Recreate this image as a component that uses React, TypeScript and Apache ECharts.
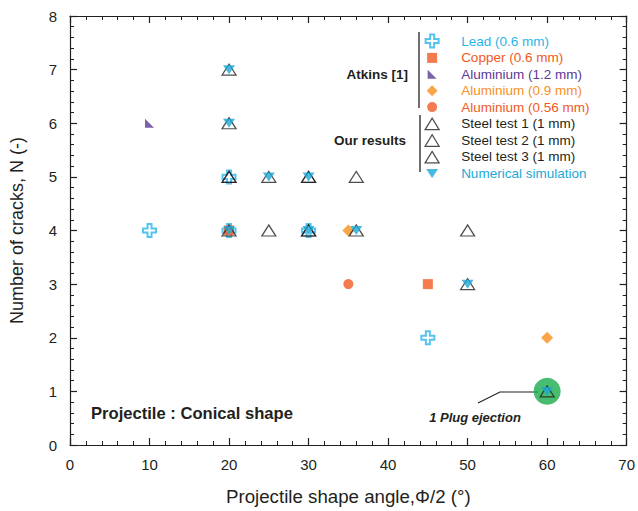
import React, { useEffect, useRef } from "react";
import * as echarts from "echarts";

// ---- data ----
const xTickMin = 0;
const xTickMax = 70;
const yTickMin = 0;
const yTickMax = 8;

const leadData = [[10, 4], [20, 5], [20, 4], [30, 4], [45, 2]];
const copperData = [[20, 4], [45, 3]];
const al12Data = [[10, 6]];
const al09Data = [[35, 4], [60, 2]];
const al056Data = [[35, 3]];
const steel1Data = [[20, 7], [20, 6], [20, 5], [25, 5], [30, 5], [20, 4], [30, 4], [36, 4], [50, 3], [60, 1]];
const steel2Data = [[36, 5], [25, 4], [50, 4]];
const steel3Data = [[20, 5], [30, 5], [30, 4]];
const numericalData = [[20, 7], [20, 6], [25, 5], [30, 5], [20, 4], [30, 4], [36, 4], [50, 3], [60, 1]];
const plugData = [[60, 1]];

const seriesNames = [
  "Lead (0.6 mm)",
  "Copper (0.6 mm)",
  "Aluminium (1.2 mm)",
  "Aluminium (0.9 mm)",
  "Aluminium (0.56 mm)",
  "Steel test 1 (1 mm)",
  "Steel test 2 (1 mm)",
  "Steel test 3 (1 mm)",
  "Numerical simulation",
];

const INK = "#231f20";
const C_LEAD = "#29b5e8";
const C_COPPER = "#f15a22";
const C_AL12 = "#5c3a93";
const C_AL09 = "#f7901e";
const C_AL056 = "#f15a24";
const C_NUM = "#1ba9d6";
const C_PLUG = "#1aab4b";

const CROSS = "path://M4.5,0H8.5V4.5H13V8.5H8.5V13H4.5V8.5H0V4.5H4.5Z";
const RTRI = "path://M0,0L0,10L10,10Z";
const OTRI = "path://M7.5,0L15,12L0,12Z";
const ITRI = "path://M0,0L12,0L6,9Z";

// legend icons padded to a common 13px-high box so each keeps its own size
const L_CROSS = CROSS;
const L_RECT = "path://M0,0M13,13M1.5,1.5H11.5V11.5H1.5Z";
const L_RTRI = "path://M0,0M13,13M2,2V11H11Z";
const L_DIAM = "path://M0,0M13,13M6.5,1L12,6.5L6.5,12L1,6.5Z";
const L_CIRC = "path://M0,0M13,13M6.5,1.5A5,5,0,1,1,6.5,11.5A5,5,0,1,1,6.5,1.5Z";
const L_OTRI = "path://M0,0M15,13M0.5,12.5L7.5,1L14.5,12.5Z";
const L_ITRI = "path://M0,0M12,13M0,2L12,2L6,11Z";

export default function App() {
  const ref = useRef<HTMLDivElement>(null);

  useEffect(() => {
    if (!ref.current) return;
    const chart = echarts.init(ref.current, undefined, { renderer: "svg" });

    const axisCommon = {
      type: "value" as const,
      axisLine: { show: true, onZero: false, lineStyle: { color: INK, width: 1.2 } },
      axisTick: { show: true, inside: true, length: 7, lineStyle: { color: INK, width: 1.2 } },
      minorTick: { show: true, splitNumber: 5, length: 4, lineStyle: { color: INK, width: 1 } },
      splitLine: { show: false },
    };

    const steelStyle = { color: "transparent", borderColor: INK, borderWidth: 1.25 };

    const option: any = {
      animation: false,
      textStyle: { fontFamily: "'Liberation Sans', Arial, sans-serif" },
      grid: { left: 69, right: 9, top: 16, bottom: 65, containLabel: false },
      xAxis: [
        {
          ...axisCommon,
          position: "bottom",
          min: xTickMin,
          max: xTickMax,
          interval: 10,
          axisLabel: { show: true, fontSize: 15, color: INK, margin: 12 },
          name: "Projectile shape angle,\u03A6/2 (\u00B0)",
          nameLocation: "middle",
          nameGap: 42,
          nameTextStyle: { fontSize: 18.7, color: INK },
        },
        {
          ...axisCommon,
          position: "top",
          min: xTickMin,
          max: xTickMax,
          interval: 10,
          axisLabel: { show: false },
        },
      ],
      yAxis: [
        {
          ...axisCommon,
          position: "left",
          min: yTickMin,
          max: yTickMax,
          interval: 1,
          axisLabel: { show: true, fontSize: 15, color: INK, margin: 13 },
          name: "Number of cracks, N (-)",
          nameLocation: "middle",
          nameGap: 44,
          nameTextStyle: { fontSize: 18, color: INK },
        },
        {
          ...axisCommon,
          position: "right",
          min: yTickMin,
          max: yTickMax,
          interval: 1,
          axisLabel: { show: false },
        },
      ],
      legend: {
        orient: "vertical",
        left: 424,
        top: 33.5,
        padding: 0,
        itemWidth: 48,
        itemHeight: 13,
        itemGap: 2.4,
        selectedMode: false,
        symbolKeepAspect: true,
        textStyle: { fontSize: 13.5 },
        data: [
          { name: seriesNames[0], icon: L_CROSS, itemStyle: { color: "#fff", borderColor: C_LEAD, borderWidth: 2 }, textStyle: { color: C_LEAD } },
          { name: seriesNames[1], icon: L_RECT, itemStyle: { color: C_COPPER, borderWidth: 0 }, textStyle: { color: C_COPPER } },
          { name: seriesNames[2], icon: L_RTRI, itemStyle: { color: C_AL12, borderWidth: 0 }, textStyle: { color: C_AL12 } },
          { name: seriesNames[3], icon: L_DIAM, itemStyle: { color: C_AL09, borderWidth: 0 }, textStyle: { color: C_AL09 } },
          { name: seriesNames[4], icon: L_CIRC, itemStyle: { color: C_AL056, borderWidth: 0 }, textStyle: { color: C_AL056 } },
          { name: seriesNames[5], icon: L_OTRI, itemStyle: steelStyle, textStyle: { color: INK } },
          { name: seriesNames[6], icon: L_OTRI, itemStyle: steelStyle, textStyle: { color: INK } },
          { name: seriesNames[7], icon: L_OTRI, itemStyle: steelStyle, textStyle: { color: INK } },
          { name: seriesNames[8], icon: L_ITRI, itemStyle: { color: C_NUM, borderWidth: 0 }, textStyle: { color: C_NUM } },
        ],
      },
      series: [
        {
          name: "1 Plug ejection",
          type: "scatter",
          data: plugData,
          symbol: "circle",
          symbolSize: 27,
          itemStyle: { color: C_PLUG },
          silent: true,
        },
        {
          name: seriesNames[0],
          type: "scatter",
          data: leadData,
          symbol: CROSS,
          symbolSize: 13,
          itemStyle: { color: "#fff", borderColor: C_LEAD, borderWidth: 2 },
        },
        {
          name: seriesNames[1],
          type: "scatter",
          data: copperData,
          symbol: "rect",
          symbolSize: 10,
          itemStyle: { color: C_COPPER },
        },
        {
          name: seriesNames[2],
          type: "scatter",
          data: al12Data,
          symbol: RTRI,
          symbolSize: 9,
          itemStyle: { color: C_AL12 },
        },
        {
          name: seriesNames[3],
          type: "scatter",
          data: al09Data,
          symbol: "diamond",
          symbolSize: 12,
          itemStyle: { color: C_AL09 },
        },
        {
          name: seriesNames[4],
          type: "scatter",
          data: al056Data,
          symbol: "circle",
          symbolSize: 10,
          itemStyle: { color: C_AL056 },
        },
        {
          name: seriesNames[5],
          type: "scatter",
          data: steel1Data,
          symbol: OTRI,
          symbolSize: [14, 11],
          itemStyle: steelStyle,
        },
        {
          name: seriesNames[6],
          type: "scatter",
          data: steel2Data,
          symbol: OTRI,
          symbolSize: [14, 11],
          itemStyle: steelStyle,
        },
        {
          name: seriesNames[7],
          type: "scatter",
          data: steel3Data,
          symbol: OTRI,
          symbolSize: [14, 11],
          itemStyle: steelStyle,
        },
        {
          name: seriesNames[8],
          type: "scatter",
          data: numericalData,
          symbol: ITRI,
          symbolSize: [12, 9],
          itemStyle: { color: C_NUM },
        },
      ],
      graphic: [
        {
          type: "text",
          x: 408,
          y: 74,
          style: { text: "Atkins [1]", fill: INK, font: "bold 13.5px 'Liberation Sans', Arial, sans-serif", textAlign: "right", textVerticalAlign: "middle" },
        },
        {
          type: "text",
          x: 406,
          y: 140,
          style: { text: "Our results", fill: INK, font: "bold 13.5px 'Liberation Sans', Arial, sans-serif", textAlign: "right", textVerticalAlign: "middle" },
        },
        { type: "line", shape: { x1: 419, y1: 32, x2: 419, y2: 108 }, style: { stroke: INK, lineWidth: 1.3 } },
        { type: "line", shape: { x1: 420, y1: 115, x2: 420, y2: 172 }, style: { stroke: INK, lineWidth: 1.3 } },
        {
          type: "text",
          x: 91,
          y: 413,
          style: { text: "Projectile : Conical shape", fill: INK, font: "bold 16.6px 'Liberation Sans', Arial, sans-serif", textAlign: "left", textVerticalAlign: "middle" },
        },
        {
          type: "text",
          x: 475,
          y: 417,
          style: { text: "1 Plug ejection", fill: INK, font: "italic bold 13px 'Liberation Sans', Arial, sans-serif", textAlign: "center", textVerticalAlign: "middle" },
        },
        {
          type: "polyline",
          shape: { points: [[478, 403], [500, 392], [538, 392]] },
          style: { stroke: INK, lineWidth: 1.1, fill: "none" },
        },
      ],
    };

    chart.setOption(option);
    return () => chart.dispose();
  }, []);

  return (
    <div
      ref={ref}
      style={{ position: "fixed", left: 0, top: 0, width: 638, height: 511, background: "#fff" }}
    />
  );
}
